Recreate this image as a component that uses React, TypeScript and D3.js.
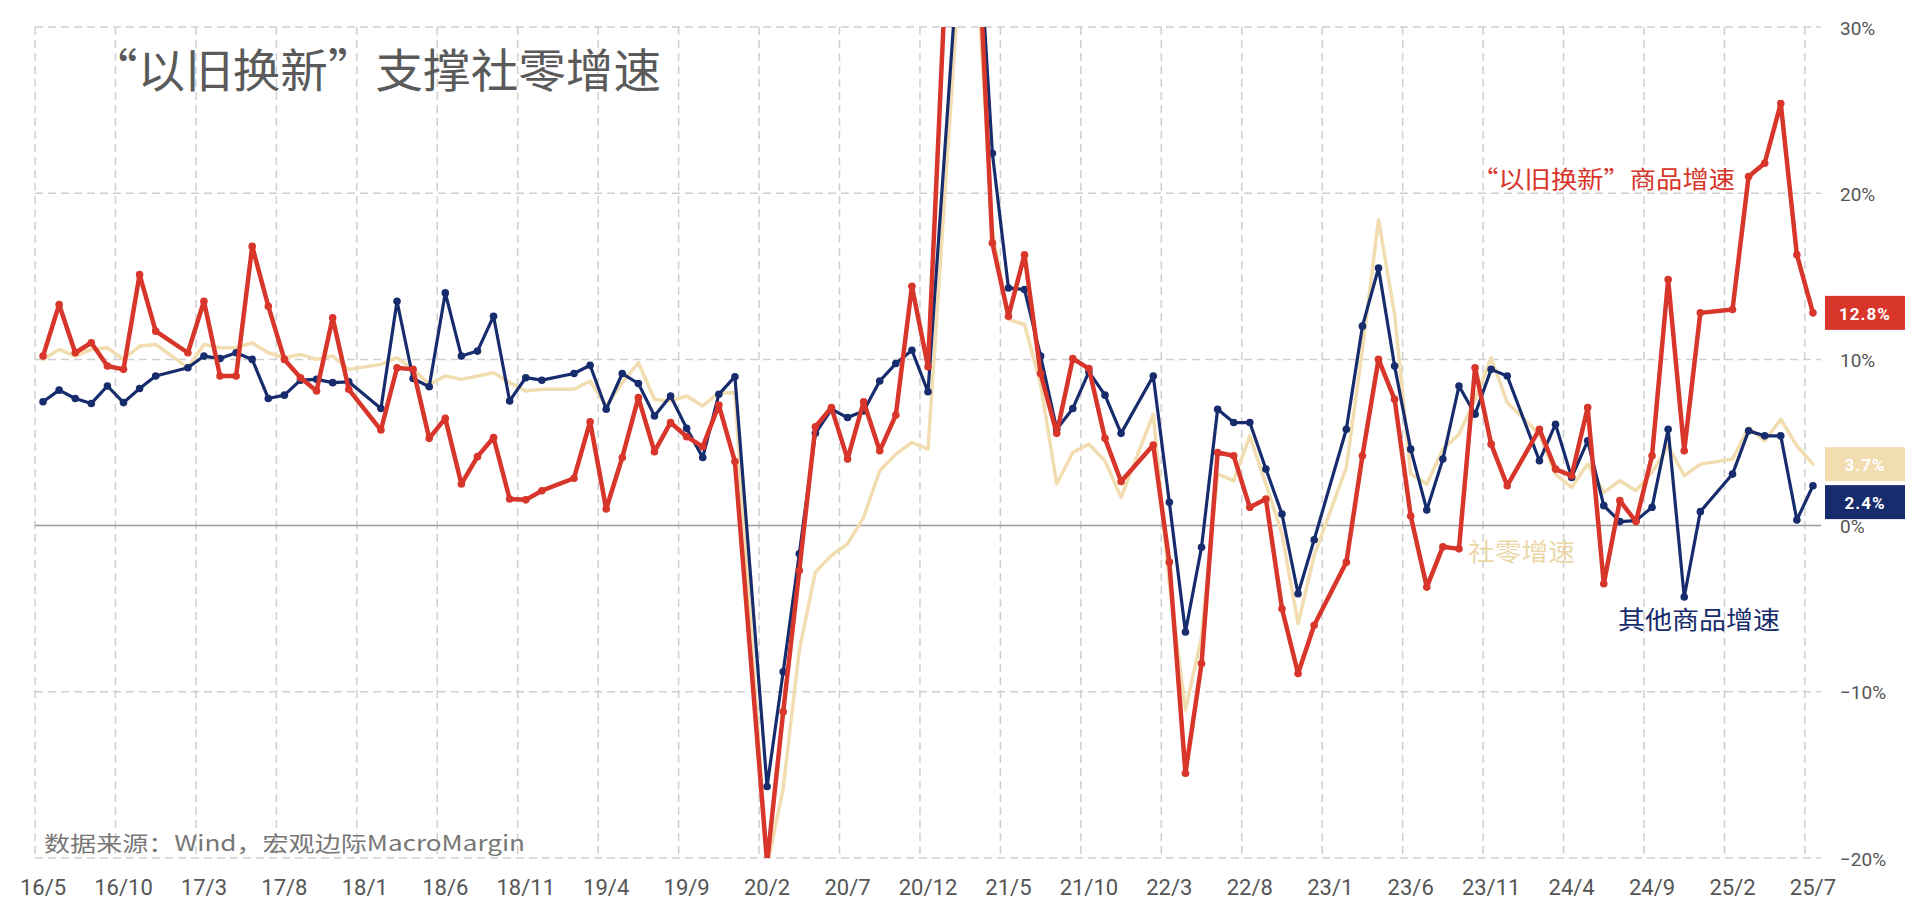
import React from "react";
import * as d3 from "d3";

// Month labels (2016/5 .. 2025/7), one per month
const startYear = 2016;
const startMonth = 5;
const months: string[] = Array.from({ length: 111 }, (_, i) => {
  const m0 = startMonth - 1 + i;
  const y = startYear + Math.floor(m0 / 12);
  const m = (m0 % 12) + 1;
  return `${String(y).slice(2)}/${m}`;
});

const tickLabels = ["16/5","16/10","17/3","17/8","18/1","18/6","18/11","19/4","19/9","20/2","20/7","20/12","21/5","21/10","22/3","22/8","23/1","23/6","23/11","24/4","24/9","25/2","25/7"];
const yTicks = [30, 20, 10, 0, -10, -20];

// 社零增速 (total retail sales yoy, %), null = January (combined with Feb)
const retail: (number | null)[] = [
  10.0,10.6,10.2,10.6,10.7,10.0,10.8,10.9,null,9.5,10.9,10.7,10.7,11.0,10.4,10.1,10.3,10.0,10.2,9.4,
  null,9.7,10.1,9.4,8.5,9.0,8.8,9.0,9.2,8.6,8.1,8.2,null,8.2,8.7,7.2,8.6,9.8,7.6,7.5,
  7.8,7.2,8.0,8.0,null,-20.5,-15.8,-7.5,-2.8,-1.8,-1.1,0.5,3.3,4.3,5.0,4.6,null,33.8,34.2,17.7,
  12.4,12.1,8.5,2.5,4.4,4.9,3.9,1.7,null,6.7,-3.5,-11.1,-6.7,3.1,2.7,5.4,2.5,-0.5,-5.9,-1.8,
  null,3.5,10.6,18.4,12.7,3.1,2.5,4.6,5.5,7.6,10.1,7.4,null,5.5,3.1,2.3,3.7,2.0,2.7,2.1,
  3.2,4.8,3.0,3.7,null,4.0,5.9,5.1,6.4,4.8,3.7
];

// “以旧换新”商品增速
const tradeIn: (number | null)[] = [
  10.2,13.3,10.4,11.0,9.6,9.4,15.1,11.7,null,10.4,13.5,9.0,9.0,16.8,13.2,10.0,8.9,8.1,12.5,8.2,
  null,5.75,9.5,9.4,5.25,6.45,2.5,4.15,5.3,1.6,1.55,2.1,null,2.85,6.25,1.0,4.1,7.7,4.45,6.2,
  5.35,4.75,7.25,3.85,null,-20.3,-11.2,-2.7,5.95,7.1,4.0,7.45,4.5,6.65,14.4,9.56,null,52.3,37.9,17.0,
  12.6,16.3,9.15,5.55,10.05,9.45,5.25,2.65,null,4.85,-2.2,-14.9,-8.3,4.4,4.2,1.1,1.6,-5.0,-8.9,-6.0,
  null,-2.2,4.2,10.0,7.6,0.58,-3.7,-1.27,-1.4,9.5,4.9,2.4,null,5.8,3.4,3.0,7.1,-3.5,1.5,0.24,
  4.2,14.8,4.5,12.8,null,13.0,21.0,21.8,25.4,16.3,12.8
];

// 其他商品增速
const others: (number | null)[] = [
  7.45,8.15,7.65,7.35,8.4,7.4,8.25,9.0,null,9.5,10.2,10.05,10.4,10.0,7.65,7.85,8.75,8.8,8.6,8.65,
  null,7.05,13.5,8.85,8.35,14.0,10.2,10.5,12.6,7.5,8.9,8.75,null,9.15,9.65,7.0,9.15,8.55,6.6,7.8,
  5.85,4.1,7.9,8.96,null,-15.7,-8.8,-1.7,5.55,7.0,6.5,6.9,8.7,9.75,10.55,8.05,null,35.9,38.3,22.4,
  14.3,14.2,10.2,5.8,7.05,9.25,7.85,5.55,null,9.0,1.4,-6.4,-1.3,7.0,6.2,6.2,3.4,0.7,-4.1,-0.85,
  null,5.8,12.0,15.5,9.6,4.6,0.94,4.0,8.4,6.7,9.4,9.0,null,3.9,6.1,2.9,5.1,1.2,0.24,0.3,
  1.1,5.8,-4.3,0.84,null,3.1,5.7,5.4,5.4,0.34,2.4
];

const RED = "#D8352B";
const NAVY = "#172C6C";
const BEIGE = "#F1DDAF";
const GRID = "#CFCFCF";
const TEXT = "#555555";

const W = 1924;
const H = 920;
const plot = { left: 35, right: 1821, top: 27, bottom: 858 };

export default function App() {
  const x = d3.scaleBand<number>().domain(d3.range(months.length)).range([plot.left, plot.right]).padding(0);
  const bw = x.bandwidth();
  const cx = (i: number) => (x(i) as number) + bw / 2;
  const y = d3.scaleLinear().domain([-20, 30]).range([plot.bottom, plot.top]);

  const pts = (arr: (number | null)[]) =>
    arr.map((v, i) => ({ i, v })).filter((d) => d.v !== null) as { i: number; v: number }[];

  const line = d3.line<{ i: number; v: number }>().x((d) => cx(d.i)).y((d) => y(d.v));

  const series = [
    { data: retail, color: BEIGE, width: 3.5, markers: false },
    { data: others, color: NAVY, width: 3.2, markers: true },
    { data: tradeIn, color: RED, width: 4.5, markers: true },
  ];

  // end labels
  const last = (arr: (number | null)[]) => arr[arr.length - 1] as number;
  const ends = [
    { v: last(tradeIn), color: RED },
    { v: last(retail), color: BEIGE },
    { v: last(others), color: NAVY },
  ]
    .map((d) => ({ ...d, cy: y(d.v) }))
    .sort((a, b) => a.cy - b.cy);
  const boxH = 34;
  for (let k = 1; k < ends.length; k++) {
    const minCy = ends[k - 1].cy + boxH + 4;
    if (ends[k].cy < minCy) ends[k].cy = minCy;
  }

  const gridIdx = d3.range(0, months.length, 5);

  return (
    <svg
      width={W}
      height={H}
      style={{ position: "absolute", left: 0, top: 0, background: "#fff" }}
      fontFamily="Roboto, 'Noto Sans', sans-serif"
    >
      <defs>
        <clipPath id="plotClip">
          <rect x={plot.left} y={plot.top} width={plot.right - plot.left} height={plot.bottom - plot.top} />
        </clipPath>
      </defs>
      <rect x={0} y={0} width={W} height={H} fill="#fff" />

      {/* grid */}
      <g stroke={GRID} strokeWidth={1.5} strokeDasharray="8 5" fill="none">
        {gridIdx.map((i) => (
          <line key={"v" + i} x1={x(i)} x2={x(i)} y1={plot.top} y2={plot.bottom} />
        ))}
        {yTicks.filter((t) => t !== 0).map((t) => (
          <line key={"h" + t} x1={plot.left} x2={plot.right} y1={y(t)} y2={y(t)} />
        ))}
      </g>
      <line x1={plot.left} x2={plot.right} y1={y(0)} y2={y(0)} stroke="#9A9A9A" strokeWidth={1.5} />

      {/* title */}
      <text
        x={90}
        y={67}
        dominantBaseline="central"
        fontFamily="'Noto Sans CJK SC', sans-serif"
        fontSize={46}
        fill="#5A5A5A"
        textLength={571}
        lengthAdjust="spacingAndGlyphs"
      >
        “以旧换新”支撑社零增速
      </text>

      {/* source */}
      <text
        x={44}
        y={842}
        dominantBaseline="central"
        fontFamily="'Noto Sans CJK SC', sans-serif"
        fontSize={21}
        fill="#777"
        textLength={481}
        lengthAdjust="spacingAndGlyphs"
      >
        数据来源：Wind，宏观边际MacroMargin
      </text>

      {/* series */}
      <g clipPath="url(#plotClip)">
        {series.map((s, k) => (
          <g key={k}>
            <path d={line(pts(s.data)) || ""} fill="none" stroke={s.color} strokeWidth={s.width} strokeLinejoin="round" strokeLinecap="round" />
            {s.markers &&
              pts(s.data).map((d) => (
                <circle key={d.i} cx={cx(d.i)} cy={y(d.v)} r={3.8} fill={s.color} />
              ))}
          </g>
        ))}
      </g>

      {/* x tick labels */}
      {tickLabels.map((lab) => {
        const i = months.indexOf(lab);
        return (
          <text key={lab} x={cx(i)} y={887} textAnchor="middle" dominantBaseline="central" fontSize={22} fill={TEXT}>
            {lab}
          </text>
        );
      })}

      {/* y tick labels */}
      {yTicks.map((t) => (
        <text key={t} x={1840} y={y(t) + 1} dominantBaseline="central" fontSize={19} fill={TEXT}>
          {t < 0 ? `−${Math.abs(t)}%` : `${t}%`}
        </text>
      ))}

      {/* annotations */}
      <text x={1472} y={177} dominantBaseline="central" fontFamily="'Noto Sans CJK SC', sans-serif" fontSize={24} fill={RED} textLength={263} lengthAdjust="spacingAndGlyphs">
        “以旧换新”商品增速
      </text>
      <text x={1468} y={550} dominantBaseline="central" fontFamily="'Noto Sans CJK SC', sans-serif" fontSize={25} fill="#EBD7A8" textLength={107} lengthAdjust="spacingAndGlyphs">
        社零增速
      </text>
      <text x={1618} y={618} dominantBaseline="central" fontFamily="'Noto Sans CJK SC', sans-serif" fontSize={25} fill={NAVY} textLength={162} lengthAdjust="spacingAndGlyphs">
        其他商品增速
      </text>

      {/* end labels */}
      {ends.map((e, k) => (
        <g key={k}>
          <rect x={1825} y={e.cy - boxH / 2} width={80} height={boxH} fill={e.color} />
          <text x={1865} y={e.cy + 1} textAnchor="middle" dominantBaseline="central" fontSize={17} fontWeight="bold" fill="#fff" letterSpacing={1}>
            {`${e.v.toFixed(1)}%`}
          </text>
        </g>
      ))}
    </svg>
  );
}
